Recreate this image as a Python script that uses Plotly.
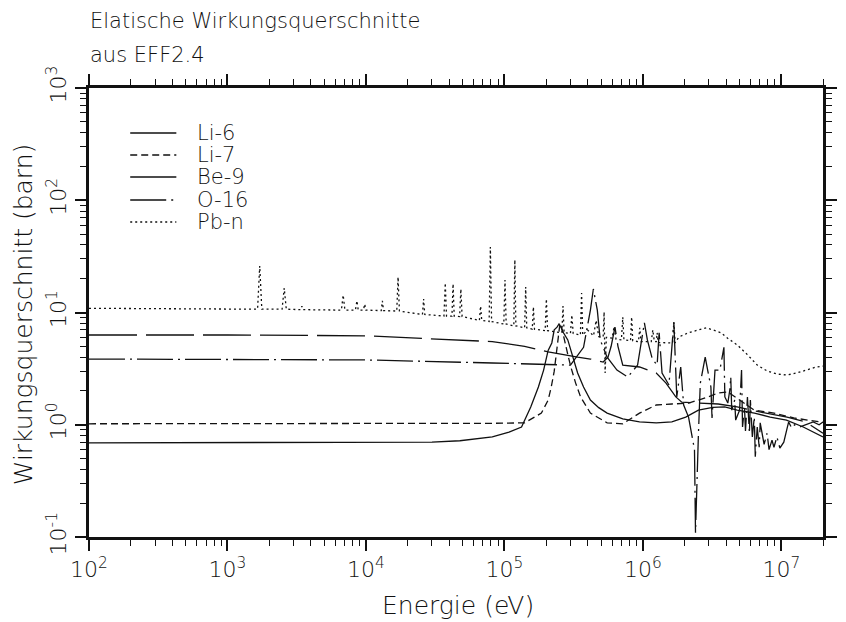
import math
import plotly.graph_objects as go

# Elastic cross sections (energy in eV, cross section in barn)
li6 = [
    (1e2, 0.69), (1e3, 0.69), (1e4, 0.69), (3e4, 0.70), (4.77e4, 0.72), (8.18e4, 0.78),
    (1.08e5, 0.86), (1.33e5, 0.955), (1.55e5, 1.44), (1.76e5, 2.17), (1.92e5, 3.07),
    (2.07e5, 4.6), (2.20e5, 5.35), (2.29e5, 7.0), (2.40e5, 7.4), (2.48e5, 7.9),
    (2.56e5, 7.4), (2.67e5, 6.6), (2.87e5, 5.7), (3.12e5, 4.0), (3.38e5, 2.89),
    (3.73e5, 2.17), (4.18e5, 1.66), (4.8e5, 1.42), (5.52e5, 1.27), (7.16e5, 1.13),
    (9.46e5, 1.06), (1.25e6, 1.04), (1.62e6, 1.06), (2.04e6, 1.17), (2.52e6, 1.35),
    (3.2e6, 1.43), (3.9e6, 1.44), (4.8e6, 1.35), (6.4e6, 1.27), (8.3e6, 1.17),
    (1.09e7, 1.10), (1.44e7, 0.955), (2.0e7, 0.78),
]

li7 = [
    (1e2, 1.02), (1e4, 1.02), (8.18e4, 1.03), (1.40e5, 1.04), (1.85e5, 1.27), (2.07e5, 1.66),
    (2.18e5, 2.17), (2.29e5, 3.0), (2.36e5, 4.0), (2.44e5, 6.0), (2.52e5, 8.0), (2.60e5, 7.2),
    (2.70e5, 6.0), (2.78e5, 5.0), (2.90e5, 4.0), (3.02e5, 3.27), (3.27e5, 2.35), (3.55e5, 1.77),
    (4.18e5, 1.27), (5.52e5, 1.04), (7.16e5, 1.02), (9.46e5, 1.27), (1.25e6, 1.50),
    (1.62e6, 1.53), (2.14e6, 1.56), (2.52e6, 1.66), (2.97e6, 1.77), (3.49e6, 1.92),
    (4.11e6, 1.96), (6.38e6, 1.35), (8.85e6, 1.27), (1.23e7, 1.15), (1.88e7, 1.06), (2.0e7, 1.05),
]

be9 = [
    (1e2, 6.3), (1e3, 6.3), (1e4, 6.2), (1.6e4, 6.05), (8.18e4, 5.5), (1.40e5, 5.0),
    (2.07e5, 4.45), (3.38e5, 4.0), (4.18e5, 3.85), (5.17e5, 3.62), (5.6e5, 4.0), (5.9e5, 5.0),
    (6.29e5, 7.4), (6.61e5, 5.0), (7.16e5, 3.4), (9.46e5, 3.27), (1.25e6, 2.89), (1.47e6, 2.35),
    (1.73e6, 1.77), (1.91e6, 1.59), (2.5e6, 1.56), (3.5e6, 1.53), (4.8e6, 1.44), (7.0e6, 1.30),
    (1.1e7, 1.17), (1.5e7, 1.06), (2.0e7, 0.84),
]

o16 = [
    (1e2, 3.85), (1e4, 3.78), (8.18e4, 3.55), (1.85e5, 3.48), (3.0e5, 3.4), (3.73e5, 4.9),
    (4.18e5, 10.5), (4.39e5, 16.2), (4.69e5, 10.5), (4.92e5, 5.7), (5.52e5, 4.0), (6.5e5, 3.07),
    (7.78e5, 2.66), (9.16e5, 3.4), (9.94e5, 6.6), (1.026e6, 8.1), (1.078e6, 5.7), (1.17e6, 3.85),
    (1.268e6, 3.4), (1.311e6, 6.6), (1.376e6, 2.89), (1.543e6, 2.26), (1.674e6, 8.2),
    (1.758e6, 1.77), (1.877e6, 3.27), (1.971e6, 1.50), (2.138e6, 1.17), (2.248e6, 0.84),
    (2.36e6, 0.60), (2.40e6, 0.109), (2.478e6, 0.60), (2.518e6, 0.81), (2.60e6, 2.35),
    (2.82e6, 4.0), (3.10e6, 2.17), (3.16e6, 1.15), (3.32e6, 3.07), (3.60e6, 3.07), (3.85e6, 4.9),
    (3.91e6, 1.77), (4.108e6, 1.56), (4.245e6, 2.04), (4.314e6, 2.66), (4.385e6, 1.35),
    (4.605e6, 1.66), (4.68e6, 1.10), (4.996e6, 1.35), (5.162e6, 3.07), (5.247e6, 0.955),
    (5.421e6, 1.44), (5.51e6, 0.88), (5.693e6, 1.77), (5.882e6, 0.84), (5.978e6, 1.66),
    (6.177e6, 0.78), (6.382e6, 1.17), (6.486e6, 0.52), (6.701e6, 0.955), (6.924e6, 0.63),
    (7.037e6, 1.04), (7.512e6, 0.67), (7.891e6, 0.84), (8.153e6, 0.60), (8.563e6, 0.73),
    (8.848e6, 0.63), (9.29e6, 0.78), (9.76e6, 0.62), (1.042e7, 0.70), (1.094e7, 0.90),
    (1.13e7, 1.06), (1.187e7, 0.935), (1.246e7, 1.0), (1.353e7, 0.955), (1.516e7, 1.0),
    (1.70e7, 1.06), (1.875e7, 1.0), (2.0e7, 1.06),
]

pb = [
    (1e2, 10.9), (1.0e3, 10.8), (1.65e3, 10.7), (1.71e3, 26.0), (1.77e3, 10.7), (2.48e3, 10.7),
    (2.57e3, 16.5), (2.66e3, 10.7), (3.38e3, 10.6), (3.45e3, 11.4), (3.52e3, 10.6), (6.65e3, 10.5),
    (6.85e3, 14.3), (7.05e3, 10.5), (8.4e3, 10.5), (8.61e3, 12.7), (8.8e3, 10.5), (9.6e3, 10.5),
    (9.8e3, 11.9), (1.0e4, 10.5), (1.29e4, 10.4), (1.315e4, 12.7), (1.34e4, 10.4), (1.67e4, 10.3),
    (1.706e4, 20.7), (1.745e4, 10.3), (2.56e4, 9.6), (2.61e4, 13.2), (2.66e4, 9.6), (3.66e4, 9.3),
    (3.74e4, 18.3), (3.82e4, 9.3), (4.18e4, 9.3), (4.26e4, 18.0), (4.34e4, 9.3), (4.75e4, 9.2),
    (4.85e4, 16.2), (4.95e4, 9.2), (6.6e4, 8.5), (6.73e4, 11.4), (6.86e4, 8.5), (7.76e4, 8.3),
    (7.92e4, 38.3), (8.08e4, 8.3), (9.9e4, 7.9), (1.01e5, 19.5), (1.03e5, 7.9), (1.17e5, 7.6),
    (1.19e5, 29.4), (1.21e5, 7.6), (1.40e5, 7.3), (1.425e5, 16.9), (1.45e5, 7.3), (1.59e5, 7.1),
    (1.62e5, 11.2), (1.65e5, 7.1), (1.97e5, 6.9), (2.01e5, 13.2), (2.05e5, 6.9), (2.6e5, 6.6),
    (2.65e5, 11.4), (2.7e5, 6.6), (3.0e5, 6.5), (3.07e5, 9.5), (3.14e5, 6.5), (3.54e5, 6.3),
    (3.61e5, 14.9), (3.68e5, 6.3), (3.98e5, 7.0), (4.4e5, 6.2), (4.6e5, 8.5), (4.8e5, 6.1),
    (5.17e5, 6.1), (5.25e5, 10.1), (5.34e5, 2.89), (5.45e5, 6.0), (6.0e5, 5.9), (6.2e5, 7.5),
    (6.4e5, 5.8), (7.0e5, 5.7), (7.16e5, 9.1), (7.3e5, 5.7), (8.15e5, 5.6), (8.3e5, 9.1),
    (8.45e5, 5.6), (9.3e5, 5.5), (9.5e5, 7.3), (9.7e5, 5.5), (1.15e6, 5.5), (1.18e6, 7.0),
    (1.21e6, 5.5), (1.25e6, 5.5), (1.268e6, 6.6), (1.29e6, 5.4), (1.64e6, 5.35), (1.674e6, 8.2),
    (1.71e6, 5.35), (1.82e6, 6.05), (2.14e6, 6.6), (2.52e6, 7.0), (2.87e6, 7.3), (3.2e6, 7.0),
    (3.67e6, 6.6), (4.1e6, 5.9), (4.84e6, 5.1), (5.7e6, 4.2), (6.7e6, 3.4), (7.9e6, 3.01),
    (9.3e6, 2.83), (1.094e7, 2.77), (1.288e7, 2.89), (1.516e7, 3.07), (1.785e7, 3.27), (2.0e7, 3.33),
]

series_names = ["Li-6", "Li-7", "Be-9", "O-16", "Pb-n"]
series_data = [li6, li7, be9, o16, pb]
series_dash = ["solid", "7px,4px", "48px,9px", "36px,5px,2px,5px", "2px,3px"]

x_major = [1e2, 1e3, 1e4, 1e5, 1e6, 1e7]
x_major_text = ["10<sup>2</sup>", "10<sup>3</sup>", "10<sup>4</sup>", "10<sup>5</sup>",
                "10<sup>6</sup>", "10<sup>7</sup>"]
y_major = [1e-1, 1e0, 1e1, 1e2, 1e3]
y_major_text = ["10<sup>-1</sup>", "10<sup>0</sup>", "10<sup>1</sup>", "10<sup>2</sup>",
                "10<sup>3</sup>"]

FONT = "DejaVu Sans"
WEIGHT = 300
INK = "#111111"

fig = go.Figure()
for name, data, dash in zip(series_names, series_data, series_dash):
    fig.add_trace(go.Scatter(
        x=[p[0] for p in data], y=[p[1] for p in data], name=name,
        mode="lines", line=dict(color=INK, width=1.3, dash=dash),
        showlegend=False,
    ))

x_minor = [m * 10 ** d for d in range(2, 8) for m in range(2, 10) if m * 10 ** d <= 2e7]
y_minor = [m * 10.0 ** d for d in range(-1, 3) for m in range(2, 10)]

axis_common = dict(
    type="log", showline=True, linewidth=3, linecolor=INK, mirror="allticks",
    ticks="outside", ticklen=11, tickwidth=1.5, tickcolor=INK,
    showgrid=False, zeroline=False, tickmode="array",
    tickfont=dict(family=FONT, size=22, color=INK, weight=WEIGHT),
)

fig.update_xaxes(
    **axis_common, range=[2, math.log10(2e7)],
    tickvals=x_major, ticktext=x_major_text,
    minor=dict(tickmode="array", tickvals=x_minor, ticks="outside", ticklen=6,
               tickwidth=1, tickcolor=INK, showgrid=False),
)
fig.update_yaxes(
    **axis_common, range=[-1, 3], tickangle=-90,
    tickvals=y_major, ticktext=y_major_text,
    minor=dict(tickmode="array", tickvals=y_minor, ticks="outside", ticklen=6,
               tickwidth=1, tickcolor=INK, showgrid=False),
)

# Plot area spans 748 x 449 px
L, T, W, H = 89, 88, 748, 449


def px(x):
    return (x - L) / W


def py(y):
    return (T + H - y) / H


annotations = [
    dict(text="Elatische Wirkungsquerschnitte", x=px(88), y=py(21), xanchor="left",
         yanchor="middle", font=dict(size=21)),
    dict(text="aus EFF2.4", x=px(88), y=py(55), xanchor="left", yanchor="middle",
         font=dict(size=21)),
    dict(text="Energie (eV)", x=px(465), y=py(605), xanchor="center", yanchor="middle",
         font=dict(size=25)),
    dict(text="Wirkungsquerschnitt (barn)", x=px(22), y=py(314), xanchor="center",
         yanchor="middle", textangle=-90, font=dict(size=25)),
]

shapes = []
legend_rows = [133, 155, 177, 200, 222]
for name, dash, row in zip(series_names, series_dash, legend_rows):
    shapes.append(dict(type="line", xref="paper", yref="paper",
                       x0=px(131), x1=px(178), y0=py(row), y1=py(row),
                       line=dict(color=INK, width=1.3, dash=dash)))
    annotations.append(dict(text=name, x=px(197), y=py(row), xanchor="left",
                            yanchor="middle", font=dict(size=21)))

for a in annotations:
    a.update(xref="paper", yref="paper", showarrow=False)
    a["font"].update(family=FONT, color=INK, weight=WEIGHT)

fig.update_layout(
    width=846, height=622,
    margin=dict(l=L, r=846 - L - W, t=T, b=622 - T - H),
    paper_bgcolor="white", plot_bgcolor="white",
    annotations=annotations, shapes=shapes,
    showlegend=False,
)

fig.write_html("out.html")
